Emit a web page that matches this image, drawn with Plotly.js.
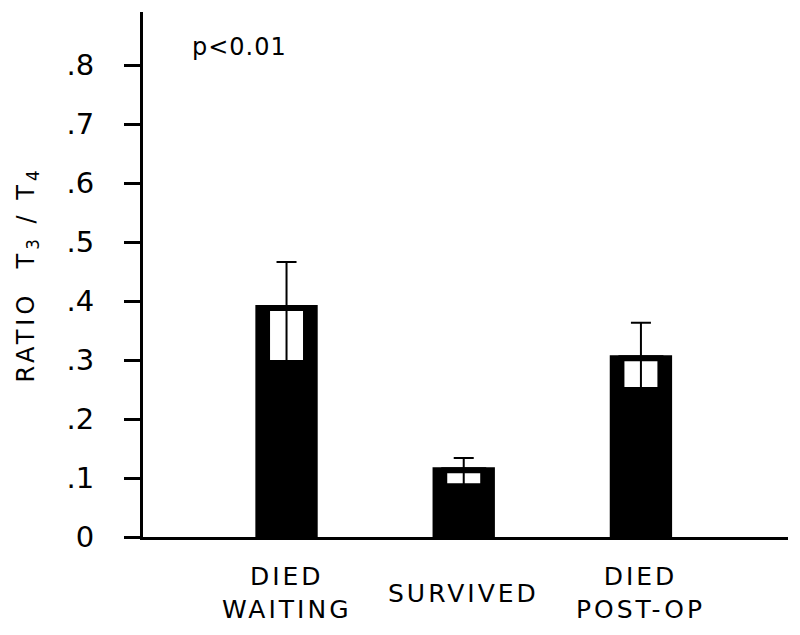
<!DOCTYPE html>
<html>
<head>
<meta charset="utf-8">
<script src="https://cdn.plot.ly/plotly-3.0.1.min.js"></script>
<style>html,body{margin:0;padding:0;background:#fff;}#chart{width:800px;height:635px;}</style>
</head>
<body>
<div id="chart"></div>
<script>
// ---- data ----
const categories = ["DIED<br>WAITING", "SURVIVED", "DIED<br>POST-OP"];
const meanRatio = [0.388, 0.113, 0.303];
const upperBound = [0.466, 0.134, 0.363];
const lowerBound = [0.295, 0.086, 0.249];
const yTickVals = [0, 0.1, 0.2, 0.3, 0.4, 0.5, 0.6, 0.7, 0.8];
const yTickText = ["0", ".1", ".2", ".3", ".4", ".5", ".6", ".7", ".8"];
const pLabel = "p<0.01";
const yTitle = "RATIO  T<sub>3</sub> / T<sub>4</sub>";

const FONT = "DejaVu Sans, Liberation Sans, sans-serif";
const sp = (t, px) => '<span style="letter-spacing:' + px + 'px">' + t + '</span>';

const xIdx = categories.map((_, i) => i);

const mainBars = {
  type: "bar",
  x: xIdx,
  y: meanRatio,
  width: 0.318,
  marker: { color: "#000", line: { color: "#000", width: 6 } },
  hoverinfo: "skip"
};

const innerBars = {
  type: "bar",
  x: xIdx,
  base: lowerBound,
  y: meanRatio.map((m, i) => m - lowerBound[i]),
  width: 0.22,
  marker: { color: "#fff", line: { color: "#000", width: 6 } },
  error_y: {
    type: "data",
    symmetric: false,
    array: upperBound.map((u, i) => u - meanRatio[i]),
    arrayminus: meanRatio.map((m, i) => m - lowerBound[i]),
    color: "#000",
    thickness: 2,
    width: 10
  },
  hoverinfo: "skip"
};

const annotations = categories.map((c, i) => ({
  x: i, xref: "x",
  y: -0.107, yref: "paper",
  text: c.split("<br>").map(s => sp(s, 3)).join("<br>"),
  showarrow: false,
  xanchor: "center", yanchor: "middle",
  align: "center",
  font: { family: FONT, size: 25, color: "#000" }
}));
annotations.push({
  x: 0.073, xref: "paper",
  y: 0.933, yref: "paper",
  text: sp(pLabel, 1),
  showarrow: false,
  xanchor: "left", yanchor: "middle",
  font: { family: FONT, size: 24, color: "#000" }
});

const layout = {
  width: 800, height: 635,
  margin: { l: 143, r: 12, t: 12, b: 98 },
  paper_bgcolor: "#fff",
  plot_bgcolor: "#fff",
  showlegend: false,
  barmode: "overlay",
  font: { family: FONT, color: "#000" },
  xaxis: {
    range: [-0.81, 2.83],
    showline: true, linecolor: "#000", linewidth: 3,
    ticks: "", showticklabels: false,
    showgrid: false, zeroline: false
  },
  yaxis: {
    range: [0, 0.89],
    tickvals: yTickVals,
    ticktext: yTickText,
    ticks: "outside", ticklen: 16, tickwidth: 3, tickcolor: "#000",
    ticklabelstandoff: 24,
    tickfont: { family: FONT, size: 29, color: "#000" },
    showline: true, linecolor: "#000", linewidth: 3,
    showgrid: false, zeroline: false,
    title: {
      text: sp(yTitle, 4),
      font: { family: FONT, size: 24, color: "#000" },
      standoff: 26
    }
  },
  annotations: annotations
};

Plotly.newPlot("chart", [mainBars, innerBars], layout, { staticPlot: true, displayModeBar: false });
</script>
</body>
</html>
